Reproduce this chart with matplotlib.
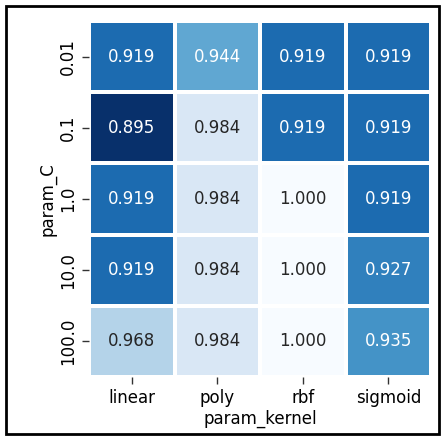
import matplotlib
matplotlib.use("Agg")
import matplotlib.pyplot as plt
import seaborn as sns
import pandas as pd
from matplotlib.patches import Rectangle

param_C = ["0.01", "0.1", "1.0", "10.0", "100.0"]
param_kernel = ["linear", "poly", "rbf", "sigmoid"]
scores = [
    [0.919, 0.944, 0.919, 0.919],
    [0.895, 0.984, 0.919, 0.919],
    [0.919, 0.984, 1.000, 0.919],
    [0.919, 0.984, 1.000, 0.927],
    [0.968, 0.984, 1.000, 0.935],
]

df = pd.DataFrame(scores, index=param_C, columns=param_kernel)
df.index.name = "param_C"
df.columns.name = "param_kernel"

plt.rcParams["font.family"] = ["DejaVu Sans"]
plt.rcParams["font.size"] = 12

fig = plt.figure(figsize=(4.42, 4.36), dpi=100)
ax = fig.add_axes([89/442, 1-377/436, 342/442, 356/436])
sns.heatmap(df, annot=True, fmt=".3f", cmap="Blues_r", cbar=False,
            linewidths=2.6, linecolor="white", ax=ax,
            annot_kws={"fontsize": 12})
ax.set_yticklabels(param_C, rotation=90, va="center", fontsize=12)
ax.set_xticklabels(param_kernel, rotation=0, fontsize=12)
ax.set_xlabel("param_kernel", fontsize=12, labelpad=2)
ax.set_ylabel("param_C", fontsize=12, labelpad=2)
ax.tick_params(length=5, width=1, color="#333333")

fig.patches.append(Rectangle((6/442, 2/436), 433/442, 428/436,
                             transform=fig.transFigure, fill=False,
                             edgecolor="black", linewidth=2))
fig.savefig("out.png", dpi=100)
